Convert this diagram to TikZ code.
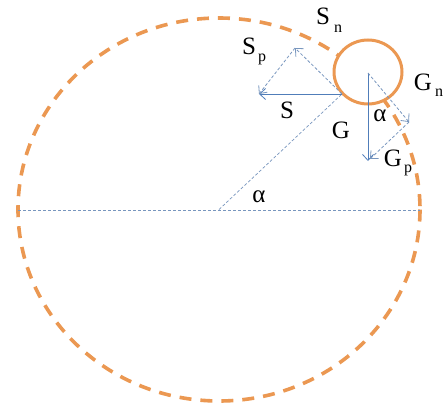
\documentclass[tikz,border=0pt]{standalone}
\usepackage{fontspec}
\setmainfont{Liberation Serif}
\usetikzlibrary{arrows.meta}
\definecolor{orng}{RGB}{235,152,82}
\definecolor{blu}{RGB}{80,125,185}
\definecolor{dblu}{RGB}{120,150,190}
\begin{document}
\begin{tikzpicture}[x=1pt,y=-1pt,
  bigc/.style={draw=orng,line width=3.6pt,dash pattern=on 12pt off 9pt},
  smallc/.style={draw=orng,line width=3pt,fill=white},
  force/.style={draw=blu,line width=0.8pt,-{Straight Barb[length=6pt,width=11pt,line width=0.8pt]}},
  comp/.style={draw=dblu,line width=0.8pt,dash pattern=on 3pt off 2pt,-{Straight Barb[length=6pt,width=11pt,line width=0.8pt]}},
  guide/.style={draw=dblu,line width=0.7pt,dash pattern=on 3pt off 2pt},
  lbl/.style={font=\fontsize{25}{25}\selectfont,inner sep=0pt},
  sub/.style={font=\fontsize{16}{16}\selectfont,inner sep=0pt}]
\useasboundingbox (0,0) rectangle (445,407);
% big circle
\coordinate (O) at (219,209.5);
\draw[bigc] (O) ellipse [x radius=201, y radius=191.5];
% guides
\coordinate (L) at (18,210);
\coordinate (R) at (420,210);
\draw[guide] (L) -- (R);
\coordinate (P) at (342,94);
\draw[guide] (O) -- (P);
% small circle
\coordinate (C) at (368,73);
\draw[smallc] (368,72) ellipse [x radius=34, y radius=32];
% S forces
\coordinate (St) at (259,94);
\coordinate (Sp) at (295,48);
\draw[force] (P) -- (St);
\draw[comp] (P) -- (Sp);
\draw[comp] (Sp) -- (St);
% G forces
\coordinate (Gt) at (368,161);
\coordinate (Gn) at (409,122);
\draw[force] (C) -- (Gt);
\draw[comp] (C) -- (Gn);
\draw[comp] (Gn) -- (370,159);
% labels
\node[lbl] (lSn) at (323,16) {S};
\node[sub] (lSnn) at (338,29) {n};
\node[lbl] (lSp) at (249,46) {S};
\node[sub] (lSpp) at (262,59) {p};
\node[lbl] (lS) at (287,110) {S};
\node[lbl] (lG) at (341,130) {G};
\node[lbl] (la1) at (380,116) {α};
\node[lbl] (lGn) at (423,82) {G};
\node[sub] (lGnn) at (439,93) {n};
\node[lbl] (lGp) at (393,158) {G};
\node[sub] (lGpp) at (408,170) {p};
\node[lbl] (la2) at (259,197) {α};
\end{tikzpicture}
\end{document}
